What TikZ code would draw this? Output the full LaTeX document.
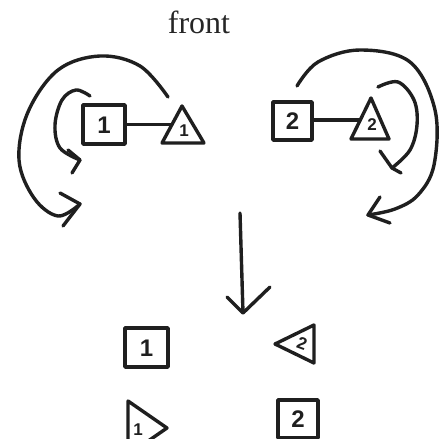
\documentclass[tikz,border=0pt]{standalone}
\usepackage{fontspec}
\setmainfont{Liberation Serif}
\newfontfamily\handfont{Liberation Sans}
\begin{document}
\begin{tikzpicture}[x=1pt,y=-1pt,
  ink/.style={line width=3.4pt, line cap=round, line join=round, draw=black!88},
  numlabel/.style={inner sep=0pt, font=\handfont\bfseries\fontsize{24}{24}\selectfont, text=black!88},
  trilabel/.style={inner sep=0pt, font=\handfont\bfseries\fontsize{17}{17}\selectfont, text=black!88},
  curl/.style={ink, smooth, tension=0.6},
  vhead/.style={ink}]
\useasboundingbox (0,0) rectangle (439,439);
\begin{scope}
\clip (0,0) rectangle (439,439);
% title
\node[anchor=base, font=\fontsize{32}{32}\selectfont, text=black!85] (title) at (199,33) {front};

% ---- upper left group ----
\draw[ink] (83,105) rectangle (125,144);
\node[numlabel] (s1) at (104,125) {1};
\coordinate (s1east) at (125,124.5);
\draw[ink] (182,106) -- (162,143) -- (204,143) -- cycle;
\coordinate (t1left) at (172,124.5);
\node[trilabel] (t1) at (184,131) {1};
\draw[ink] (s1east) -- (t1left);

% outer arc left
\draw[curl] plot coordinates {(168,97) (140,66) (100,56) (58,70) (28,112) (19,160) (34,198) (58,216) (80,204)};
\coordinate (lo) at (80,204);
\draw[vhead] (60,193) -- (lo) -- (63,226);
% inner curl left
\draw[curl] plot coordinates {(90,96) (76,90) (62,100) (55,125) (60,148) (80,160)};
\coordinate (li) at (80,160);
\draw[vhead] (68,150) -- (li) -- (72,173);

% ---- upper right group ----
\draw[ink] (273,102) rectangle (312,140);
\node[numlabel] (s2) at (292.5,121.5) {2};
\coordinate (s2east) at (312,120);
\draw[ink] (371,98) -- (351,139) -- (389,139) -- cycle;
\coordinate (t2left) at (360,120);
\node[trilabel] (t2) at (372,125) {2};
\draw[ink] (s2east) -- (t2left);

% outer arc right
\draw[curl] plot coordinates {(297,86) (318,62) (360,50) (410,62) (435,110) (434,165) (418,195) (395,209) (368,215)};
\coordinate (ro) at (368,215);
\draw[vhead] (380,197) -- (ro) -- (390,223);
% inner curl right
\draw[curl] plot coordinates {(378,87) (398,82) (414,100) (417,125) (410,150) (392,168)};
\coordinate (ri) at (392,168);
\draw[vhead] (380,151) -- (ri) -- (401,173);

% ---- down arrow ----
\coordinate (da) at (240,213);
\coordinate (db) at (243,313);
\draw[ink] (da) -- (db);
\draw[vhead] (227,297) -- (db) -- (270,287);

% ---- bottom ----
\draw[ink] (125,328) rectangle (168,367);
\node[numlabel] (b1) at (146.5,348) {1};
\draw[ink] (275,344) -- (314,325) -- (314,363) -- cycle;
\node[trilabel, rotate=-20] (b2t) at (302,344) {2};
\draw[ink] (128,401) -- (167,428) -- (128,455) -- cycle;
\node[trilabel] (b1t) at (138,430) {1};
\draw[ink] (278,400) rectangle (318,438);
\node[numlabel] (b2) at (298,419.5) {2};
\end{scope}
\end{tikzpicture}
\end{document}
